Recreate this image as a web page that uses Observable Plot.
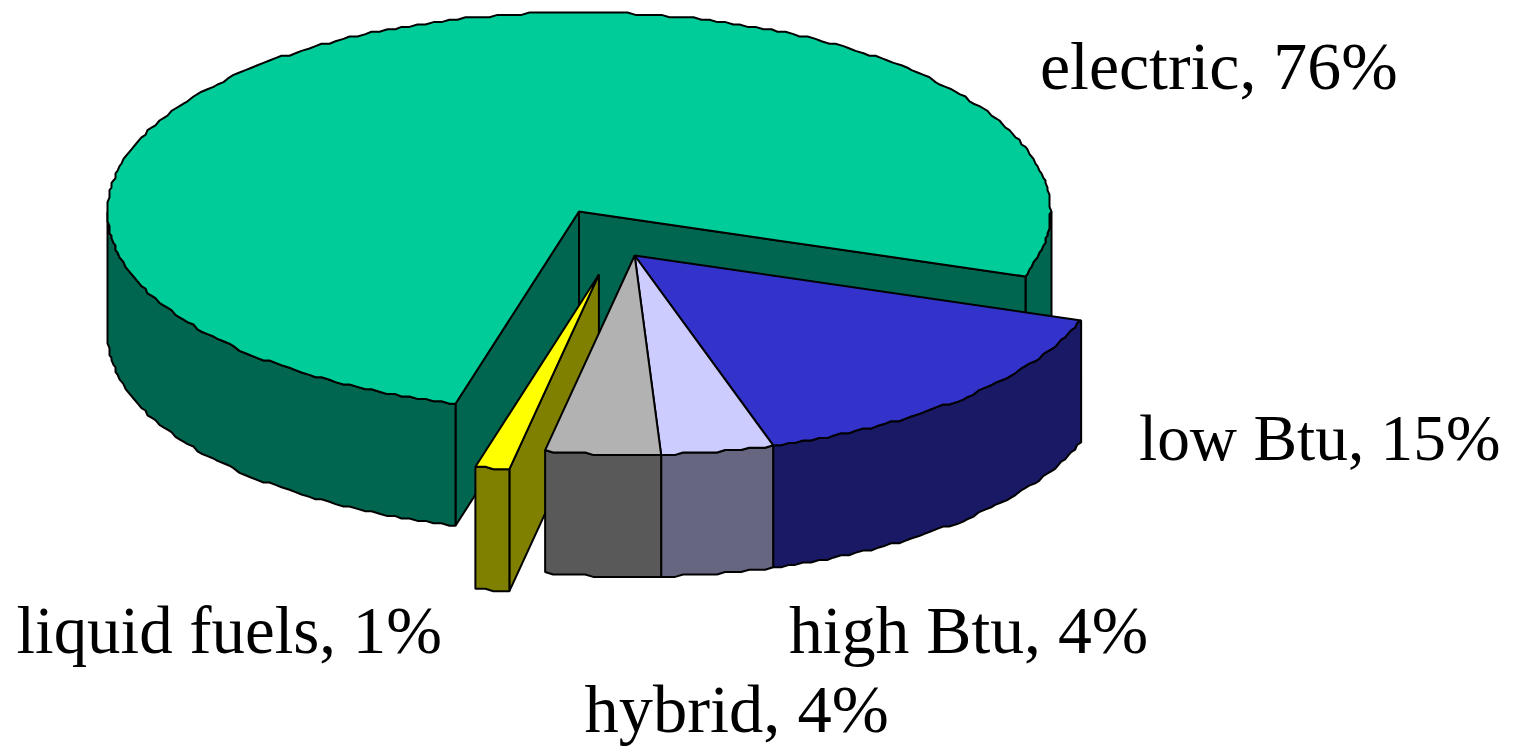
<!doctype html>
<html><head><meta charset="utf-8">
<style>html,body{margin:0;padding:0;background:#fff}svg{display:block}</style>
<script src="https://cdn.jsdelivr.net/npm/d3@7"></script>
<script src="https://cdn.jsdelivr.net/npm/@observablehq/plot@0.6"></script>
</head><body><div id="chart"></div>
<script>
// Data, in drawing order around the pie, clockwise from the start angle
const categories = ["low Btu", "high Btu", "hybrid", "liquid fuels", "electric"];
const shares = [15, 4, 4, 1, 76];                 // printed labels
const sliceShares = [15, 3.83, 3.94, 1.14, 76.09]; // unrounded shares
const topColors = ["#3333cc", "#ccccff", "#b2b2b2", "#ffff00", "#00cc99"];
const sideColors = ["#191966", "#666680", "#595959", "#808000", "#006650"];

// Geometry of the tilted pie, in pie-radius units
const W = 1515, H = 746;
const cx = 578.5, cy = 211, rx = 471.5, ry = 199;
const startAngle = 19, depth = 122 / ry, gridX = 2, gridY = 2.4, step = 1;
const explode = {"low Btu": [0.118, 0.221], "high Btu": [0.118, 0.221], "hybrid": [0.118, 0.221], "liquid fuels": [0.0422, 0.317], "electric": [0, 0]};
const toUX = px => (px - cx) / rx, toUY = py => (py - cy) / ry;

// Angle ranges follow from the shares
const cum = d3.cumsum(sliceShares);
const slices = categories.map((name, i) => {
  const a0 = startAngle + (i ? cum[i - 1] : 0) * 3.6, a1 = startAngle + cum[i] * 3.6;
  const [ox, oy] = explode[name];
  return {name, a0, a1, ox, oy, topFill: topColors[i], side: sideColors[i]};
});
// The original's outline sits on a coarse device grid, which gives its stepped edge
const snap = (u, r, g) => (Math.round((u * r + r) / g) * g - r) / r;
const at = (s, a, d = 0) => [
  s.ox + snap(Math.cos(a * Math.PI / 180), rx, gridX),
  s.oy + snap(Math.sin(a * Math.PI / 180), ry, gridY) + d
];
// Sample on a fixed angle grid so that faces and walls share the same outline
const arc = (s, a, b, d = 0) => {
  const lo = Math.min(a, b), hi = Math.max(a, b);
  const angles = [lo, ...d3.range(Math.floor(lo / step + 1) * step, hi, step), hi];
  if (a > b) angles.reverse();
  return angles.map(t => at(s, t, d));
};
const apex = (s, d = 0) => [s.ox, s.oy + d];

const polys = [];
let nextId = 0;
const add = (pts, fill) => {
  const id = nextId++;
  pts.forEach(([x, y]) => polys.push({id, x, y, fill}));
};
const wall = (s, a, b) => add([...arc(s, a, b), ...arc(s, b, a, depth)], s.side);
const radial = (s, a) => add([apex(s), at(s, a), at(s, a, depth), apex(s, depth)], s.side);
const face = s => add([apex(s), ...arc(s, s.a0, s.a1)], s.topFill);
const by = Object.fromEntries(slices.map(s => [s.name, s]));

// Painter's order: back to front
const el = by["electric"];
wall(el, 0, startAngle);
radial(el, startAngle);
radial(el, el.a0);
wall(el, el.a0, 180);
face(el);
for (const n of ["low Btu", "high Btu"]) { const s = by[n]; wall(s, s.a0, s.a1); face(s); }
const lq = by["liquid fuels"];
radial(lq, lq.a0); wall(lq, lq.a0, lq.a1); face(lq);
const hy = by["hybrid"];
wall(hy, hy.a0, hy.a1); face(hy);

const labelSize = [65.4, 67.7, 68.5, 66.9, 67.8];
const labelX = [1138.5, 788.5, 584, 16, 1039.5].map(toUX);
const labelY = [459, 652, 731.5, 652, 88].map((b, i) => toUY(b - 0.32 * labelSize[i]));
const labels = categories.map((c, i) => ({t: `${c}, ${shares[i]}%`, x: labelX[i], y: labelY[i], size: labelSize[i]}));

const chart = Plot.plot({
  width: W, height: H, margin: 0,
  style: {background: "#fff"},
  x: {domain: [toUX(0), toUX(W)], range: [0, W], axis: null},
  y: {domain: [toUY(0), toUY(H)], range: [0, H], axis: null},
  color: {type: "identity"},
  marks: [
    Plot.line(polys, {x: "x", y: "y", z: "id", fill: "fill", stroke: "#000", strokeWidth: 2, curve: "linear-closed", strokeLinejoin: "miter"}),
    Plot.text(labels, {x: "x", y: "y", text: "t", textAnchor: "start", fontFamily: "'Liberation Serif'", fontSize: "size", fill: "#000"})
  ]
});
document.getElementById("chart").append(chart);
</script></body></html>
